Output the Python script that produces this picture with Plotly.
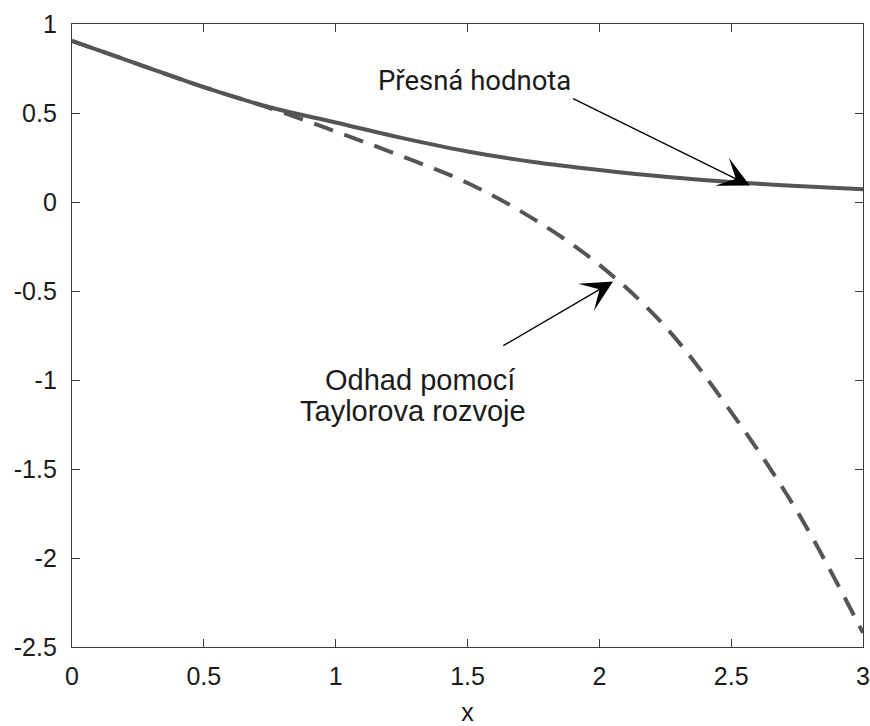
import plotly.graph_objects as go

# Sample points along x
x_vals = [0.0, 0.25, 0.5, 0.75, 1.0, 1.25, 1.5, 1.75, 2.0, 2.25, 2.5, 2.75, 3.0]

# Exact value (solid curve)
exact_vals = [0.905, 0.775, 0.645, 0.532, 0.447, 0.36, 0.284, 0.225, 0.18, 0.142, 0.112, 0.09, 0.072]

# Taylor expansion estimate (dashed curve)
taylor_vals = [0.905, 0.775, 0.645, 0.528, 0.396, 0.258, 0.107, -0.095, -0.353, -0.70, -1.18, -1.737, -2.42]

# Axis ticks
x_ticks = [0, 0.5, 1, 1.5, 2, 2.5, 3]
x_tick_text = ["0", "0.5", "1", "1.5", "2", "2.5", "3"]
y_ticks = [1, 0.5, 0, -0.5, -1, -1.5, -2, -2.5]
y_tick_text = ["1", "0.5", "0", "-0.5", "-1", "-1.5", "-2", "-2.5"]

line_color = "#555555"
axis_color = "#3a3a3a"
text_color = "#1a1a1a"
tick_font = dict(family="Liberation Sans, Arial, sans-serif", size=25, color=text_color)

fig = go.Figure()
fig.add_trace(go.Scatter(
    x=x_vals, y=taylor_vals, mode="lines", line_shape="spline",
    line=dict(color=line_color, width=4, dash="20px,12px"),
    showlegend=False, hoverinfo="skip",
))
fig.add_trace(go.Scatter(
    x=x_vals, y=exact_vals, mode="lines", line_shape="spline",
    line=dict(color=line_color, width=4),
    showlegend=False, hoverinfo="skip",
))

axis_common = dict(
    showline=True, linecolor=axis_color, linewidth=1.4, mirror="ticks",
    ticks="inside", ticklen=8, tickwidth=1.4, tickcolor=axis_color,
    showgrid=False, zeroline=False, tickfont=tick_font,
    ticklabeloverflow="allow", automargin=False,
)
fig.update_xaxes(
    range=[0, 3], tickmode="array", tickvals=x_ticks, ticktext=x_tick_text,
    ticklabelstandoff=7,
    title=dict(text="x", font=tick_font, standoff=23),
    **axis_common,
)
fig.update_yaxes(
    range=[-2.5, 1], tickmode="array", tickvals=y_ticks, ticktext=y_tick_text,
    ticklabelstandoff=9,
    **axis_common,
)

arrow = dict(
    showarrow=True, arrowhead=3, arrowsize=4.0, arrowwidth=1.3,
    arrowcolor="black", axref="x", ayref="y", standoff=0, text="",
)
fig.add_annotation(x=2.571, y=0.092, ax=1.895, ay=0.585, **arrow)
fig.add_annotation(x=2.052, y=-0.447, ax=1.63, ay=-0.812, **arrow)

label_font = dict(family="Liberation Sans, Arial, sans-serif", size=29, color=text_color)
fig.add_annotation(x=1.525, y=0.685, text="Přesná hodnota", showarrow=False,
                   font=dict(family="Roboto, sans-serif", size=27.5, color=text_color))
fig.add_annotation(x=1.32, y=-1.0, text="Odhad pomocí", showarrow=False, font=label_font)
fig.add_annotation(x=1.293, y=-1.174, text="Taylorova rozvoje", showarrow=False, font=label_font)

fig.update_layout(
    width=870, height=726,
    margin=dict(l=72, r=7, t=24, b=79),
    paper_bgcolor="white", plot_bgcolor="white",
)

fig.write_html("out.html")
